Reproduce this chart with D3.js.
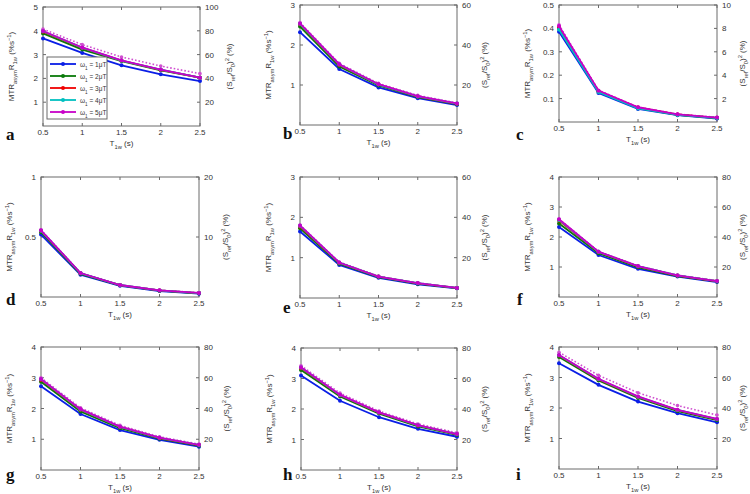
<!DOCTYPE html>
<html><head><meta charset="utf-8">
<script src="https://cdn.jsdelivr.net/npm/d3@7"></script>
<style>
html,body{margin:0;padding:0;background:#fff;}
svg{display:block;font-family:"Liberation Sans",Arial,sans-serif;}
</style></head>
<body>
<svg id="chart" width="750" height="494"></svg>
<script>
// ---------- data ----------
const tValues = [0.5, 1, 1.5, 2, 2.5];
const xTickLabels = ["0.5", "1", "1.5", "2", "2.5"];
const panelLetters = ["a","b","c","d","e","f","g","h","i"];
const leftMax = [5, 3, 0.5, 1, 3, 4, 4, 4, 4];
const leftTicks = [[1,2,3,4,5],[1,2,3],[0.1,0.2,0.3,0.4,0.5],[0.5,1],[1,2,3],[1,2,3,4],[1,2,3,4],[1,2,3,4],[1,2,3,4]];
const rightMax = [100, 60, 10, 20, 60, 80, 80, 80, 80];
const rightTicks = [[20,40,60,80,100],[20,40,60],[2,4,6,8,10],[10,20],[20,40,60],[20,40,60,80],[20,40,60,80],[20,40,60,80],[20,40,60,80]];
const legendLabels = ["1", "2", "3", "4", "5"];

const mtr1uT = [
  [3.68, 3.07, 2.55, 2.17, 1.89],
  [2.32, 1.40, 0.94, 0.67, 0.50],
  [0.386, 0.124, 0.056, 0.029, 0.015],
  [0.52, 0.185, 0.093, 0.050, 0.028],
  [1.65, 0.82, 0.50, 0.34, 0.24],
  [2.33, 1.40, 0.94, 0.68, 0.50],
  [2.72, 1.82, 1.30, 0.98, 0.76],
  [3.10, 2.27, 1.73, 1.35, 1.09],
  [3.47, 2.76, 2.21, 1.83, 1.53]
];
const mtr2uT = [
  [3.89, 3.21, 2.73, 2.34, 2.03],
  [2.46, 1.46, 0.99, 0.70, 0.52],
  [0.400, 0.130, 0.060, 0.031, 0.017],
  [0.54, 0.193, 0.097, 0.053, 0.031],
  [1.73, 0.85, 0.52, 0.355, 0.245],
  [2.45, 1.46, 0.99, 0.70, 0.52],
  [2.87, 1.90, 1.36, 1.02, 0.79],
  [3.28, 2.41, 1.85, 1.43, 1.15],
  [3.67, 2.90, 2.33, 1.90, 1.60]
];
const mtr3uT = [
  [3.96, 3.28, 2.75, 2.36, 2.03],
  [2.52, 1.50, 1.01, 0.71, 0.53],
  [0.405, 0.132, 0.062, 0.032, 0.018],
  [0.55, 0.198, 0.099, 0.055, 0.033],
  [1.77, 0.87, 0.53, 0.365, 0.25],
  [2.55, 1.50, 1.02, 0.715, 0.525],
  [2.93, 1.96, 1.40, 1.04, 0.81],
  [3.34, 2.45, 1.88, 1.46, 1.17],
  [3.72, 2.94, 2.36, 1.93, 1.63]
];
const mtr4uT = [
  [3.98, 3.29, 2.75, 2.37, 2.03],
  [2.53, 1.51, 1.01, 0.715, 0.535],
  [0.395, 0.128, 0.058, 0.030, 0.017],
  [0.553, 0.199, 0.100, 0.055, 0.033],
  [1.79, 0.875, 0.53, 0.368, 0.25],
  [2.57, 1.505, 1.025, 0.718, 0.528],
  [2.95, 1.97, 1.405, 1.045, 0.815],
  [3.36, 2.46, 1.885, 1.465, 1.175],
  [3.73, 2.95, 2.37, 1.935, 1.635]
];
const mtr5uT = [
  [3.99, 3.30, 2.76, 2.37, 2.03],
  [2.54, 1.52, 1.02, 0.72, 0.54],
  [0.410, 0.134, 0.063, 0.033, 0.019],
  [0.556, 0.200, 0.100, 0.056, 0.034],
  [1.80, 0.88, 0.53, 0.37, 0.25],
  [2.59, 1.51, 1.03, 0.72, 0.53],
  [2.96, 1.98, 1.41, 1.05, 0.82],
  [3.37, 2.47, 1.89, 1.47, 1.18],
  [3.74, 2.96, 2.38, 1.94, 1.64]
];
// (S_ref/S_0)^2 in %, right axis
const snrSquared = [
  [81.4, 68.4, 58.0, 50.4, 44.0],
  [51.2, 30.8, 20.8, 14.8, 11.0],
  [8.3, 2.72, 1.28, 0.68, 0.40],
  [11.2, 4.04, 2.02, 1.14, 0.70],
  [36.2, 17.8, 10.8, 7.5, 5.1],
  [52.0, 30.4, 20.8, 14.6, 10.8],
  [60.0, 40.4, 29.0, 21.6, 16.8],
  [68.4, 50.4, 38.6, 30.2, 24.4],
  [76.6, 61.4, 50.0, 41.6, 35.4]
];

// ---------- layout ----------
const boxes = [
  {x0:43, x1:200, y0:7,   y1:126},
  {x0:300,x1:457, y0:5,   y1:125},
  {x0:559,x1:717, y0:5,   y1:122},
  {x0:41, x1:199, y0:177, y1:297},
  {x0:300,x1:457, y0:177, y1:298},
  {x0:559,x1:717, y0:177, y1:297},
  {x0:41, x1:199, y0:347, y1:470},
  {x0:301,x1:457, y0:348, y1:470},
  {x0:559,x1:717, y0:347, y1:469}
];
const rightTitleOffset = [32, 30, 28, 29, 30, 28, 30, 30, 28];
const letterPos = [[6,140],[283,139],[516,140],[6,305],[283,313],[517,305],[6,480],[283,480],[516,480]];
const seriesColors = ["#0a1ee6", "#0a7a0a", "#f00000", "#00c0c0", "#c800c8"];
const dottedColor = "#d050d0";
const axisColor = "#6a6a6a";
const textColor = "#333";

const svg = d3.select("#chart");
const allSeries = [mtr1uT, mtr2uT, mtr3uT, mtr4uT, mtr5uT];

function rich(sel, parts, fs) {
  parts.forEach(p => {
    const t = sel.append("tspan").text(p.t);
    if (p.sub) t.attr("baseline-shift", "sub").attr("font-size", fs * 0.72);
    else if (p.sup) t.attr("baseline-shift", "super").attr("font-size", fs * 0.72);
  });
}

boxes.forEach((b, i) => {
  const g = svg.append("g");
  const x = d3.scaleLinear().domain([0.5, 2.5]).range([b.x0, b.x1]);
  const yL = d3.scaleLinear().domain([0, leftMax[i]]).range([b.y1, b.y0]);
  const yR = d3.scaleLinear().domain([0, rightMax[i]]).range([b.y1, b.y0]);

  // box
  g.append("rect").attr("x", b.x0).attr("y", b.y0)
    .attr("width", b.x1 - b.x0).attr("height", b.y1 - b.y0)
    .attr("fill", "none").attr("stroke", axisColor).attr("stroke-width", 1);

  // x ticks
  tValues.forEach((v, k) => {
    const px = x(v);
    g.append("line").attr("x1", px).attr("x2", px).attr("y1", b.y1).attr("y2", b.y1 - 3).attr("stroke", axisColor);
    g.append("line").attr("x1", px).attr("x2", px).attr("y1", b.y0).attr("y2", b.y0 + 3).attr("stroke", axisColor);
    g.append("text").attr("x", px).attr("y", b.y1 + 9).attr("text-anchor", "middle")
      .attr("font-size", 8).attr("fill", textColor).text(xTickLabels[k]);
  });
  // left ticks
  leftTicks[i].forEach(v => {
    const py = yL(v);
    g.append("line").attr("x1", b.x0).attr("x2", b.x0 + 3).attr("y1", py).attr("y2", py).attr("stroke", axisColor);
    g.append("text").attr("x", b.x0 - 5).attr("y", py + 3).attr("text-anchor", "end")
      .attr("font-size", 8).attr("fill", textColor).text(v);
  });
  // right ticks
  rightTicks[i].forEach(v => {
    const py = yR(v);
    g.append("line").attr("x1", b.x1).attr("x2", b.x1 - 3).attr("y1", py).attr("y2", py).attr("stroke", axisColor);
    g.append("text").attr("x", b.x1 + 5).attr("y", py + 3).attr("text-anchor", "start")
      .attr("font-size", 8).attr("fill", textColor).text(v);
  });

  // x title
  const xt = g.append("text").attr("x", (b.x0 + b.x1) / 2).attr("y", b.y1 + 20)
    .attr("text-anchor", "middle").attr("font-size", 8).attr("fill", textColor);
  rich(xt, [{t:"T"},{t:"1w",sub:true},{t:" (s)"}], 8);

  // left y title
  const cy = (b.y0 + b.y1) / 2;
  const lt = g.append("text").attr("transform", `translate(${b.x0 - 29},${cy}) rotate(-90)`)
    .attr("text-anchor", "middle").attr("font-size", 8).attr("fill", textColor);
  rich(lt, [{t:"MTR"},{t:"asym",sub:true},{t:"R"},{t:"1w",sub:true},{t:" (%s"},{t:"−1",sup:true},{t:")"}], 8);

  // right y title
  const rt = g.append("text").attr("transform", `translate(${b.x1 + rightTitleOffset[i]},${cy}) rotate(-90)`)
    .attr("text-anchor", "middle").attr("font-size", 8).attr("fill", textColor);
  rich(rt, [{t:"(S"},{t:"ref",sub:true},{t:"/S"},{t:"0",sub:true},{t:")"},{t:"2",sup:true},{t:" (%)"}], 8);

  // dotted right-axis series
  const dotLine = d3.line().x((d, k) => x(tValues[k])).y(d => yR(d));
  g.append("path").datum(snrSquared[i]).attr("d", dotLine).attr("fill", "none")
    .attr("stroke", dottedColor).attr("stroke-width", 1.6).attr("stroke-dasharray", "1.6,2");
  g.selectAll(null).data(snrSquared[i]).enter().append("circle")
    .attr("cx", (d, k) => x(tValues[k])).attr("cy", d => yR(d)).attr("r", 1.8).attr("fill", dottedColor);

  // solid series
  const line = d3.line().x((d, k) => x(tValues[k])).y(d => yL(d));
  allSeries.forEach((s, si) => {
    g.append("path").datum(s[i]).attr("d", line).attr("fill", "none")
      .attr("stroke", seriesColors[si]).attr("stroke-width", 1.8);
    g.selectAll(null).data(s[i]).enter().append("circle")
      .attr("cx", (d, k) => x(tValues[k])).attr("cy", d => yL(d)).attr("r", 2)
      .attr("fill", seriesColors[si]);
  });

  // panel letter
  g.append("text").attr("x", letterPos[i][0]).attr("y", letterPos[i][1])
    .attr("font-family", "'Liberation Serif','DejaVu Serif',serif").attr("font-weight", "bold")
    .attr("font-size", 17).attr("fill", "#111").text(panelLetters[i]);

  // legend in panel a
  if (i === 0) {
    const lx = 47, ly = 57, lw = 60, lh = 62;
    const lg = g.append("g");
    lg.append("rect").attr("x", lx).attr("y", ly).attr("width", lw).attr("height", lh)
      .attr("fill", "#fff").attr("stroke", axisColor);
    legendLabels.forEach((lab, k) => {
      const yy = ly + 7 + k * 12;
      lg.append("line").attr("x1", lx + 3).attr("x2", lx + 29).attr("y1", yy).attr("y2", yy)
        .attr("stroke", seriesColors[k]).attr("stroke-width", 1.8);
      lg.append("circle").attr("cx", lx + 16).attr("cy", yy).attr("r", 2).attr("fill", seriesColors[k]);
      const tt = lg.append("text").attr("x", lx + 33).attr("y", yy + 2.5)
        .attr("font-size", 6.5).attr("fill", textColor);
      rich(tt, [{t:"ω"},{t:"1",sub:true},{t:" = " + lab + "μT"}], 6.5);
    });
  }
});
</script>
</body></html>
